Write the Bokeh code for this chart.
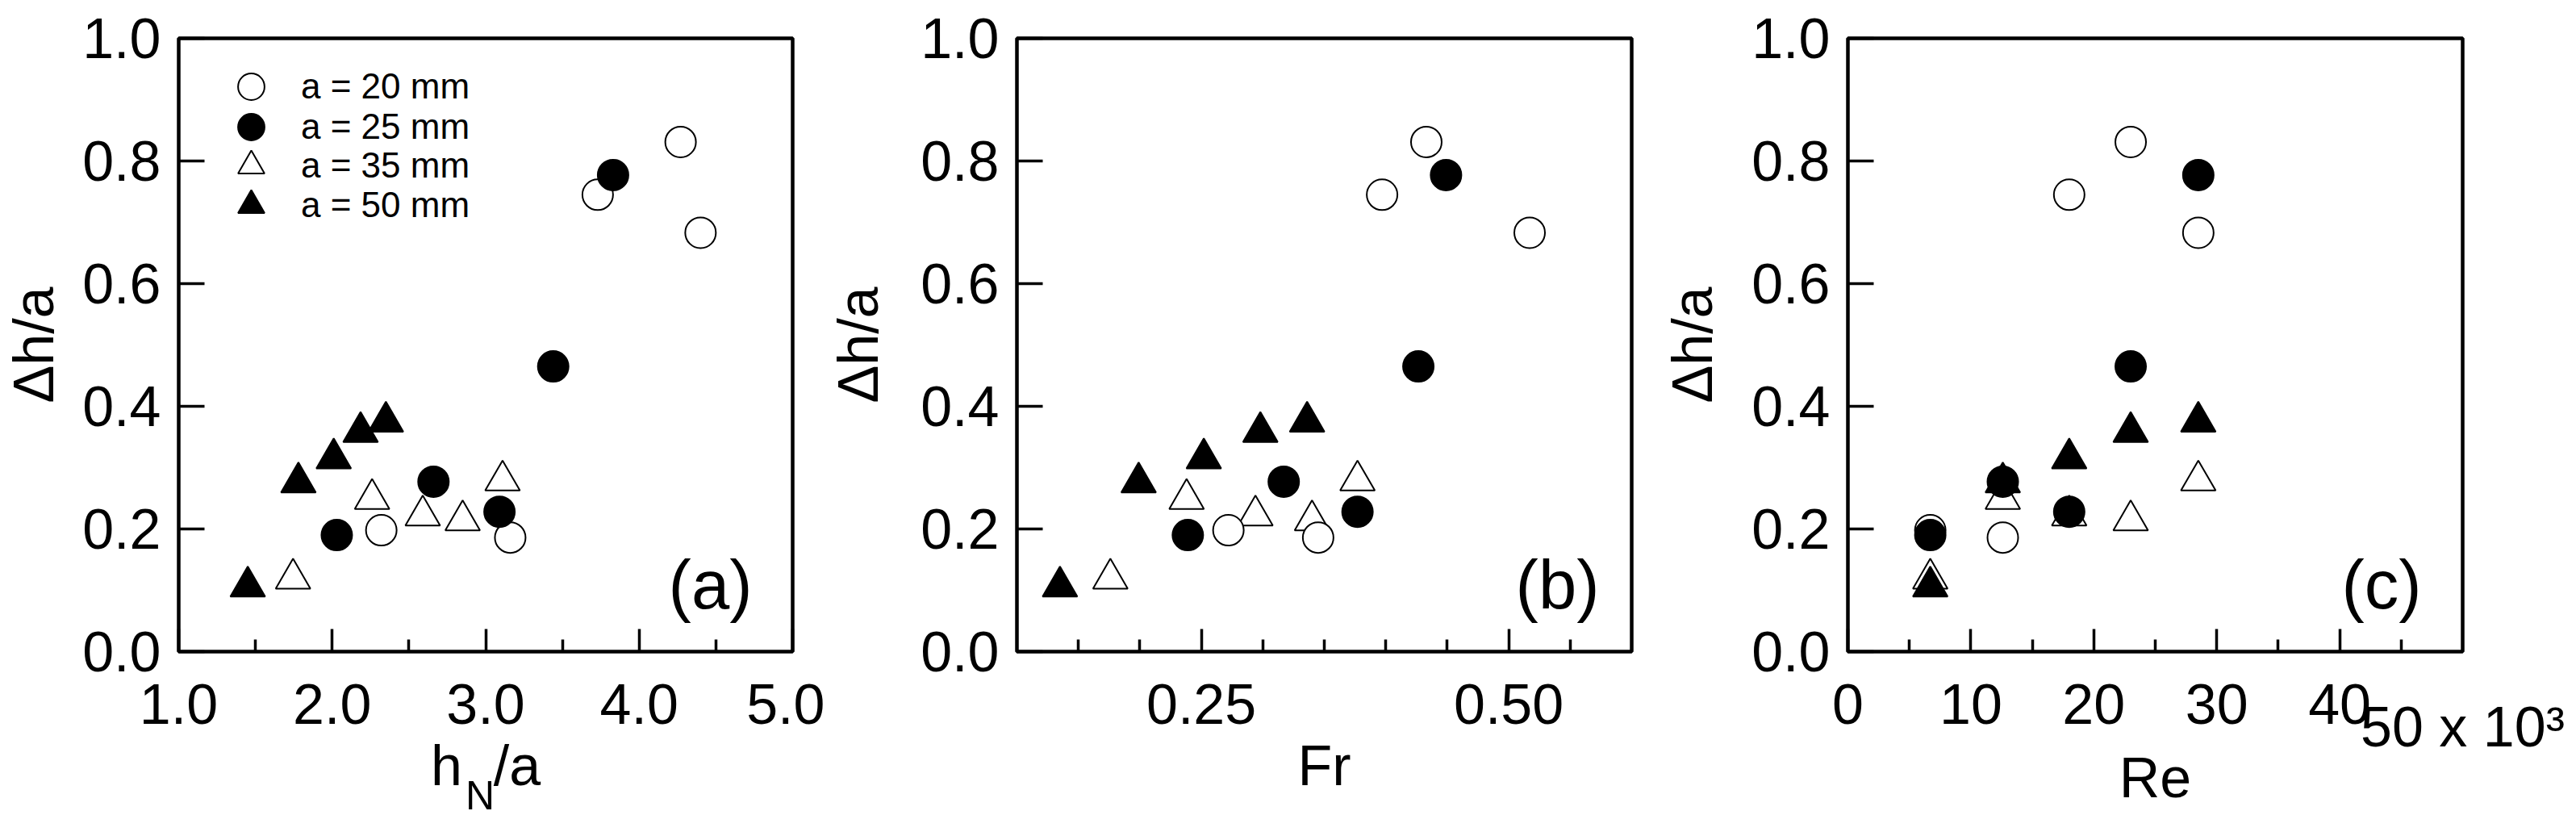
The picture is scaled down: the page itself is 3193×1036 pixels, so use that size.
from bokeh.plotting import figure
from bokeh.models import (Range1d, FixedTicker, Label, Legend, LegendItem,
                          NumeralTickFormatter, LinearAxis)
from bokeh.layouts import row
from bokeh.embed import file_html
from bokeh.resources import INLINE

FONT = "Liberation Sans"

# ---------------- data ----------------
# Reynolds numbers (x 10^3)
re_20 = [6.7, 12.6, 18.0, 23.0, 28.5]
re_25 = [6.7, 12.6, 18.0, 23.0, 28.5]
re_35 = [6.7, 12.6, 18.0, 23.0, 28.5]
re_50 = [6.7, 12.6, 18.0, 23.0, 28.5]

# Δh/a
dh_20 = [0.198, 0.186, 0.745, 0.831, 0.683]
dh_25 = [0.190, 0.277, 0.228, 0.465, 0.777]
dh_35 = [0.119, 0.249, 0.222, 0.214, 0.279]
dh_50 = [0.106, 0.276, 0.315, 0.358, 0.375]

# hN/a
hn_20 = [2.32, 3.16, 3.73, 4.27, 4.40]
hn_25 = [2.03, 2.66, 3.09, 3.44, 3.83]
hn_35 = [1.745, 2.26, 2.59, 2.85, 3.11]
hn_50 = [1.45, 1.78, 2.01, 2.185, 2.35]

# Fr
fr_20 = [0.272, 0.345, 0.397, 0.433, 0.517]
fr_25 = [0.239, 0.317, 0.377, 0.4265, 0.449]
fr_35 = [0.176, 0.238, 0.294, 0.340, 0.377]
fr_50 = [0.135, 0.199, 0.252, 0.298, 0.336]

series_labels = ["a = 20 mm", "a = 25 mm", "a = 35 mm", "a = 50 mm"]
panel_labels = ["(a)", "(b)", "(c)"]
re_ticks = [0, 10, 20, 30, 40]
re_last_tick = 50
re_last_label = "50 x 10³"

FRAME_H = 760
TICK_STANDOFF = 40


def style_axis(ax, size="70px"):
    ax.axis_line_color = None
    ax.major_tick_out = 0
    ax.minor_tick_out = 0
    ax.major_tick_line_width = 3.5
    ax.minor_tick_line_width = 3.5
    ax.major_tick_line_color = "black"
    ax.minor_tick_line_color = "black"
    ax.major_label_text_font = FONT
    ax.major_label_text_font_size = "70px"
    ax.major_label_text_color = "black"
    ax.axis_label_text_font = FONT
    ax.axis_label_text_font_size = size
    ax.axis_label_text_font_style = "normal"
    ax.axis_label_text_color = "black"


def make_fig(xr, ticks, minor, fmt, bl, fw, br, ylab_standoff):
    p = figure(frame_width=fw, frame_height=FRAME_H,
               x_range=Range1d(*xr), y_range=Range1d(0, 1.0),
               output_backend="svg", toolbar_location=None,
               min_border_left=bl, min_border_right=br,
               min_border_top=47, min_border_bottom=10)
    p.xgrid.visible = False
    p.ygrid.visible = False
    p.outline_line_color = "black"
    p.outline_line_width = 4.5
    p.outline_line_alpha = 1.0
    p.background_fill_color = "white"
    p.border_fill_color = "white"

    p.xaxis.ticker = FixedTicker(ticks=ticks, minor_ticks=minor)
    if fmt is not None:
        p.xaxis.formatter = NumeralTickFormatter(format=fmt)
    p.yaxis.ticker = FixedTicker(ticks=[0, 0.2, 0.4, 0.6, 0.8, 1.0], minor_ticks=[])
    p.yaxis.formatter = NumeralTickFormatter(format="0.0")

    style_axis(p.xaxis[0])
    style_axis(p.yaxis[0])
    p.xaxis.major_label_standoff = TICK_STANDOFF
    p.yaxis.major_label_standoff = 22
    p.xaxis.major_tick_in = 28
    p.xaxis.minor_tick_in = 15
    p.yaxis.major_tick_in = 32
    p.yaxis.minor_tick_in = 0
    p.yaxis.axis_label = "Δh/a"
    p.yaxis.axis_label_standoff = ylab_standoff
    p.xaxis.axis_label_standoff = 10
    return p


def extra_below_axis(p, ticks, label_standoff, title, title_size, title_standoff):
    ax = LinearAxis(ticker=FixedTicker(ticks=ticks, minor_ticks=[]))
    style_axis(ax, title_size)
    ax.major_tick_in = 0
    ax.major_tick_line_color = None
    ax.minor_tick_in = 0
    ax.minor_tick_line_color = None
    ax.major_label_standoff = label_standoff
    ax.axis_label = title
    ax.axis_label_standoff = title_standoff
    p.add_layout(ax, "below")
    return ax


def add_points(p, x20, x25, x35, x50):
    r35 = p.scatter(x35, dh_35, marker="triangle", size=43, fill_color="white",
                    line_color="black", line_width=2)
    r50 = p.scatter(x50, dh_50, marker="triangle", size=43, fill_color="black",
                    line_color="black", line_width=2)
    r20 = p.scatter(x20, dh_20, marker="circle", size=38, fill_color="white",
                    line_color="black", line_width=2)
    r25 = p.scatter(x25, dh_25, marker="circle", size=38, fill_color="black",
                    line_color="black", line_width=2)
    return r20, r25, r35, r50


def panel_label(p, xr, text, xoff):
    p.add_layout(Label(x=xr, y=0, x_offset=xoff, y_offset=83, text=text,
                       text_align="right", text_baseline="alphabetic",
                       text_font=FONT, text_font_size="85px", text_color="black"))


# ---------------- panel (a) ----------------
p1 = make_fig((1.0, 5.0), [1, 2, 3, 4, 5], [1.5, 2.5, 3.5, 4.5], "0.0",
              217, 761, 40, 18)
r20, r25, r35, r50 = add_points(p1, hn_20, hn_25, hn_35, hn_50)

legend_rows_y = [659, 609, 561, 512]
for lab, rend, ly in zip(series_labels, [r20, r25, r35, r50], legend_rows_y):
    lg = Legend(items=[LegendItem(label=lab, renderers=[rend])],
                location=(28, ly), border_line_color=None, background_fill_alpha=0,
                glyph_width=124, glyph_height=82, label_height=82, spacing=0,
                padding=0, margin=0, label_standoff=0,
                label_text_font=FONT, label_text_font_size="44px",
                label_text_color="black")
    p1.add_layout(lg)

panel_label(p1, 5.0, panel_labels[0], -50)

# x title  h_N/a : main part on the axis, subscript N on a blank second axis
p1.xaxis.axis_label = "h\u00a0\u00a0/a"
extra_below_axis(p1, [], 0, "N\u00a0", "50px", -33)

# ---------------- panel (b) ----------------
p2 = make_fig((0.10, 0.60), [0.25, 0.50], [0.15, 0.20, 0.30, 0.35, 0.40, 0.45, 0.55],
              "0.00", 234, 762, 34, 35)
add_points(p2, fr_20, fr_25, fr_35, fr_50)
p2.xaxis.axis_label = "Fr"
panel_label(p2, 0.60, panel_labels[1], -40)

# ---------------- panel (c) ----------------
p3 = make_fig((0, 50), re_ticks, [5, 15, 25, 35, 45], "0", 230, 762, 137, 31)
add_points(p3, re_20, re_25, re_35, re_50)
ax_last = extra_below_axis(p3, [re_last_tick], -38, "Re", "70px", -18)
ax_last.major_label_overrides = {re_last_tick: re_last_label}
panel_label(p3, 50, panel_labels[2], -51)

layout = row(p1, p2, p3)
open("out.html", "w").write(file_html(layout, INLINE))
